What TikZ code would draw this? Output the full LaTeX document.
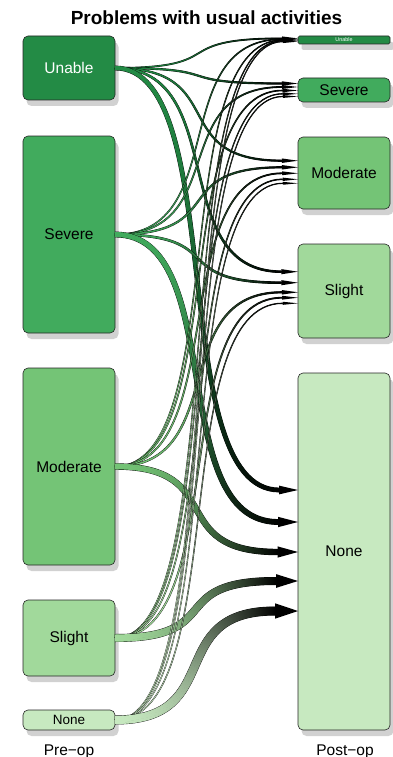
\documentclass[tikz,border=0pt]{standalone}
\usepackage{fontspec}
\setmainfont{Liberation Sans}
\usetikzlibrary{calc,decorations.markings,shadows}

\definecolor{gUnable}{HTML}{238B45}
\definecolor{gSevere}{HTML}{41AB5D}
\definecolor{gModerate}{HTML}{74C476}
\definecolor{gSlight}{HTML}{A1D99B}
\definecolor{gNone}{HTML}{C7E9C0}
\definecolor{shadowgray}{gray}{0.82}

\tikzset{
  statebox/.style={draw=black!85, line width=0.6pt, rounded corners=5pt,
    minimum width=92pt, inner sep=0pt, outer sep=0pt,
    font=\fontsize{15.5}{18}\selectfont,
    general shadow={fill=shadowgray, shadow xshift=3.5pt, shadow yshift=-6pt}},
  axislabel/.style={anchor=base, font=\fontsize{15.5}{18}\selectfont},
  titlelabel/.style={anchor=base, font=\bfseries\fontsize{19}{22}\selectfont}
}

% One transition: black outlined bezier shaft whose core fades from the
% source colour to black, finished by a black triangular head.
% #1 source node, #2 target node, #3 vertical offset of the end,
% #4 outer width of the shaft, #5 source colour
\newcommand\flowarrow[5]{%
  \pgfmathsetmacro\headlen{14+#4}%
  \pgfmathsetmacro\headwid{1.6*#4+1}%
  \pgfmathsetmacro\corewid{max(#4-0.8,0.5)}%
  \coordinate (fs) at (#1.east);
  \coordinate (fe) at ($(#2.west)+(0,#3)$);
  \coordinate (fb) at ($(fe)+(-\headlen,0)$);
  \coordinate (k1) at ($(fs)!0.7!(fb)$);
  \coordinate (k2) at ($(fs)!0.3!(fb)$);
  \draw[line width=#4pt] (fs) .. controls (k1 |- fs) and (k2 |- fb) .. (fb);
  \fill (fe) -- ($(fb)+(0,-\headwid/2)$) -- ($(fb)+(0,\headwid/2)$) -- cycle;
  \path[decoration={markings, mark=between positions 0 and 1 step 1pt with {%
      \pgfmathsetmacro\mixpct{max(0,100*(1-(\pgfkeysvalueof{/pgf/decoration/mark info/distance from start}/\pgfdecoratedpathlength)^1.6))}%
      \fill[#5!\mixpct!black] (0pt,-\corewid pt/2) rectangle (1.5pt,\corewid pt/2);}},
    decorate]
    (fs) .. controls (k1 |- fs) and (k2 |- fb) .. (fb);
}

\begin{document}
\begin{tikzpicture}[x=1pt,y=-1pt]
\useasboundingbox (0,0) rectangle (393,757);

\node[titlelabel] (title) at (206.5,25) {Problems with usual activities};

% pre-operative states
\node[statebox, fill=gUnable, text=white, minimum height=64pt] (L1) at (69,68) {Unable};
\node[statebox, fill=gSevere, minimum height=197pt] (L2) at (69,234.5) {Severe};
\node[statebox, fill=gModerate, minimum height=197pt] (L3) at (69,466.5) {Moderate};
\node[statebox, fill=gSlight, minimum height=76pt] (L4) at (69,638) {Slight};
\node[statebox, fill=gNone, minimum height=20pt, font=\fontsize{13.5}{15}\selectfont] (L5) at (69,720) {None};

% post-operative states
\node[statebox, fill=gUnable, text=white, minimum height=8pt, rounded corners=1.5pt,
      font=\fontsize{5.4}{6}\selectfont] (R1) at (344,40) {Unable};
\node[statebox, fill=gSevere, minimum height=24pt] (R2) at (344,90) {Severe};
\node[statebox, fill=gModerate, minimum height=72pt] (R3) at (344,173) {Moderate};
\node[statebox, fill=gSlight, minimum height=94pt] (R4) at (344,291) {Slight};
\node[statebox, fill=gNone, minimum height=357pt] (R5) at (344,551.5) {None};

\node[axislabel] (pre) at (69,755) {Pre−op};
\node[axislabel] (post) at (345,755) {Post−op};

% transitions
\flowarrow{L1}{R1}{-1.6}{1.8}{gUnable}
\flowarrow{L1}{R2}{-6.5}{2.2}{gUnable}
\flowarrow{L1}{R3}{-12.3}{2.2}{gUnable}
\flowarrow{L1}{R4}{-19.3}{2.6}{gUnable}
\flowarrow{L1}{R5}{-61.5}{4.8}{gUnable}

\flowarrow{L2}{R1}{-0.8}{1.6}{gSevere}
\flowarrow{L2}{R2}{-3}{1.8}{gSevere}
\flowarrow{L2}{R3}{-5.7}{2.2}{gSevere}
\flowarrow{L2}{R4}{-8.3}{2.6}{gSevere}
\flowarrow{L2}{R5}{-29.5}{5.8}{gSevere}

\flowarrow{L3}{R1}{0}{1.4}{gModerate}
\flowarrow{L3}{R2}{0.5}{1.6}{gModerate}
\flowarrow{L3}{R3}{0.3}{1.8}{gModerate}
\flowarrow{L3}{R4}{1.3}{2.2}{gModerate}
\flowarrow{L3}{R5}{0.5}{6.4}{gModerate}

\flowarrow{L4}{R1}{0.8}{1.3}{gSlight}
\flowarrow{L4}{R2}{3.8}{1.3}{gSlight}
\flowarrow{L4}{R3}{6.3}{1.5}{gSlight}
\flowarrow{L4}{R4}{6.7}{1.8}{gSlight}
\flowarrow{L4}{R5}{29.5}{8}{gSlight}

\flowarrow{L5}{R1}{1.6}{1.2}{gNone}
\flowarrow{L5}{R2}{6.5}{1.2}{gNone}
\flowarrow{L5}{R3}{10.3}{1.2}{gNone}
\flowarrow{L5}{R4}{12.3}{1.3}{gNone}
\flowarrow{L5}{R5}{59.5}{9}{gNone}
\end{tikzpicture}
\end{document}
